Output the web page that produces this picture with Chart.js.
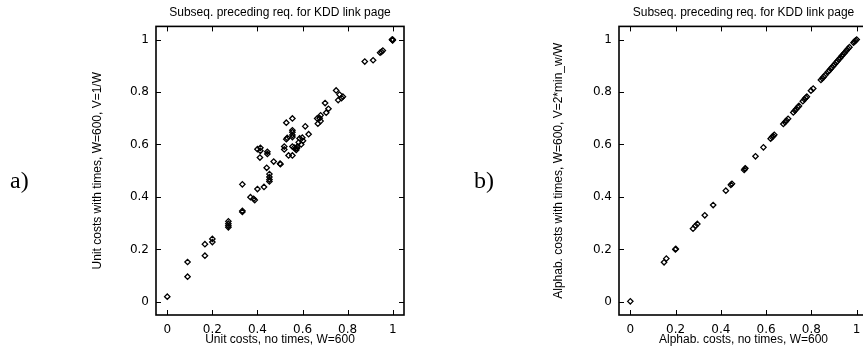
<!DOCTYPE html>
<html>
<head>
<meta charset="utf-8">
<script src="https://cdn.jsdelivr.net/npm/chart.js@4.4.0/dist/chart.umd.min.js"></script>
<style>
  html, body { margin: 0; padding: 0; width: 863px; height: 347px; overflow: hidden; background: #fff; }
  .panel { position: absolute; top: 0; height: 347px; }
  .tag { position: absolute; top: 167px; font-family: "Liberation Serif", "DejaVu Serif", serif; font-size: 24px; color: #000; }
</style>
</head>
<body>
<div class="panel" style="left:0; width:430px;"><canvas id="chartA"></canvas></div>
<div class="panel" style="left:430px; width:444px;"><canvas id="chartB"></canvas></div>
<div class="tag" style="left:10px;">a)</div>
<div class="tag" style="left:474px;">b)</div>
<script>
const plotTitle = 'Subseq. preceding req. for KDD link page';
const tickValues = [0, 0.2, 0.4, 0.6, 0.8, 1];

// panel a: unit costs
const unitNoTimes = [0, 0.09, 0.09, 0.167, 0.167, 0.2, 0.2, 0.271, 0.271, 0.271, 0.271,
  0.333, 0.333, 0.333, 0.369, 0.383, 0.388, 0.4, 0.429, 0.441, 0.453, 0.453, 0.453, 0.453,
  0.4, 0.413, 0.413, 0.411, 0.444, 0.444, 0.472, 0.5, 0.502, 0.519, 0.519, 0.528, 0.528,
  0.532, 0.538, 0.555, 0.555, 0.555, 0.555, 0.555, 0.555, 0.555, 0.563, 0.569, 0.572,
  0.575, 0.577, 0.583, 0.587, 0.594, 0.599, 0.602, 0.612, 0.627, 0.665, 0.668, 0.676,
  0.68, 0.68, 0.7, 0.705, 0.715, 0.749, 0.758, 0.764, 0.773, 0.779, 0.876, 0.913, 0.944,
  0.95, 0.956, 1, 0.998, 1, 0.997];
const unitWithTimes = [0.02, 0.152, 0.096, 0.22, 0.176, 0.24, 0.228, 0.307, 0.298, 0.29, 0.284,
  0.343, 0.347, 0.448, 0.399, 0.393, 0.388, 0.43, 0.438, 0.511, 0.487, 0.476, 0.466, 0.459,
  0.582, 0.587, 0.576, 0.55, 0.572, 0.564, 0.535, 0.527, 0.525, 0.592, 0.581, 0.683, 0.62,
  0.625, 0.558, 0.699, 0.654, 0.647, 0.636, 0.628, 0.592, 0.558, 0.588, 0.584, 0.579,
  0.586, 0.592, 0.608, 0.623, 0.6, 0.626, 0.614, 0.669, 0.639, 0.699, 0.679, 0.7,
  0.711, 0.689, 0.758, 0.721, 0.736, 0.806, 0.769, 0.79, 0.777, 0.782, 0.916, 0.921, 0.95,
  0.953, 0.958, 1, 0.998, 0.997, 1];

// panel b: alphabetical costs
const alphaNoTimes = [0, 0.149, 0.159, 0.199, 0.201, 0.277, 0.288, 0.296, 0.329, 0.366, 0.422,
  0.444, 0.449, 0.503, 0.506, 0.508, 0.553, 0.588, 0.62, 0.626, 0.631, 0.636, 0.676, 0.683,
  0.69, 0.697, 0.72, 0.727, 0.733, 0.74, 0.745, 0.762, 0.769, 0.775, 0.78, 0.798, 0.808,
  0.842, 0.848, 0.855, 0.86, 0.874, 0.879, 0.886, 0.891, 0.897, 0.903, 0.909, 0.914, 0.921,
  0.927, 0.934, 0.94, 0.947, 0.955, 0.962, 0.968, 0.986, 0.99, 0.995, 1];
const alphaWithTimes = [0.002, 0.151, 0.165, 0.2, 0.202, 0.279, 0.29, 0.297, 0.33, 0.369, 0.424,
  0.446, 0.45, 0.503, 0.507, 0.509, 0.555, 0.589, 0.622, 0.628, 0.632, 0.637, 0.678, 0.685,
  0.691, 0.698, 0.722, 0.729, 0.735, 0.742, 0.747, 0.765, 0.772, 0.778, 0.782, 0.805, 0.813,
  0.846, 0.852, 0.858, 0.864, 0.877, 0.882, 0.889, 0.894, 0.9, 0.906, 0.912, 0.917, 0.924,
  0.93, 0.937, 0.943, 0.95, 0.958, 0.965, 0.971, 0.988, 0.992, 0.996, 1];

Chart.defaults.font.family = '"Liberation Sans", Arial, sans-serif';
Chart.defaults.color = '#000';

// box round the plot with short inward ticks on all four sides
const frameTicks = {
  id: 'frameTicks',
  afterDatasetsDraw(chart) {
    const { ctx, chartArea: a, scales: { x, y } } = chart;
    ctx.save();
    ctx.strokeStyle = '#000';
    ctx.lineWidth = 1;
    ctx.beginPath();
    x.ticks.forEach(t => {
      const px = Math.round(x.getPixelForValue(t.value)) + 0.5;
      ctx.moveTo(px, a.bottom); ctx.lineTo(px, a.bottom - 5);
      ctx.moveTo(px, a.top); ctx.lineTo(px, a.top + 5);
    });
    y.ticks.forEach(t => {
      const py = Math.round(y.getPixelForValue(t.value)) + 0.5;
      ctx.moveTo(a.left, py); ctx.lineTo(a.left + 5, py);
      ctx.moveTo(a.right, py); ctx.lineTo(a.right - 5, py);
    });
    ctx.stroke();
    ctx.lineWidth = 1.6;
    ctx.strokeRect(a.left, a.top, a.right - a.left, a.bottom - a.top);
    ctx.restore();
  }
};

function renderScatter(ctxId, xs, ys, xTitle, yTitle, axisWidth, yTitlePad, rightPad) {
  const ctx = document.getElementById(ctxId).getContext('2d');
  const points = xs.map((v, i) => ({ x: v, y: ys[i] }));
  const setTicks = scale => { scale.ticks = tickValues.map(v => ({ value: v })); };
  const tickFont = { family: '"DejaVu Sans", sans-serif', size: 12 };

  new Chart(ctx, {
    type: 'scatter',
    data: {
      datasets: [{
        data: points,
        pointStyle: 'rectRot',
        pointRadius: 2.7,
        pointBorderWidth: 1.3,
        borderColor: '#000',
        backgroundColor: 'rgba(0,0,0,0)'
      }]
    },
    plugins: [frameTicks],
    options: {
      responsive: true,
      maintainAspectRatio: false,
      animation: false,
      events: [],
      layout: { padding: { left: 0, right: rightPad, top: 0, bottom: 0 } },
      plugins: {
        legend: { display: false },
        tooltip: { enabled: false },
        title: {
          display: true,
          text: plotTitle,
          fullSize: false,
          font: { size: 12, weight: 'normal' },
          padding: { top: 5, bottom: 7 }
        }
      },
      scales: {
        x: {
          type: 'linear',
          min: -0.05,
          max: 1.05,
          afterBuildTicks: setTicks,
          afterFit: scale => { scale.height = 32; },
          grid: { display: false, drawTicks: false },
          border: { display: false },
          ticks: { font: tickFont, padding: 8, maxRotation: 0, callback: v => String(v) },
          title: { display: true, text: xTitle, font: { size: 12 }, padding: { top: 0, bottom: 0 } }
        },
        y: {
          type: 'linear',
          min: -0.05,
          max: 1.05,
          afterBuildTicks: setTicks,
          afterFit: scale => { scale.width = axisWidth; },
          grid: { display: false, drawTicks: false },
          border: { display: false },
          ticks: { font: tickFont, padding: 7, callback: v => String(v) },
          title: { display: true, text: yTitle, font: { size: 12 }, padding: { top: yTitlePad, bottom: 0 } }
        }
      }
    }
  });
}

renderScatter('chartA', unitNoTimes, unitWithTimes,
  'Unit costs, no times, W=600', 'Unit costs with times, W=600, V=1/W', 156, 90, 26);
renderScatter('chartB', alphaNoTimes, alphaWithTimes,
  'Alphab. costs, no times, W=600', 'Alphab. costs with times, W=600, V=2*min_w/W', 189, 121, 6);
</script>
</body>
</html>
